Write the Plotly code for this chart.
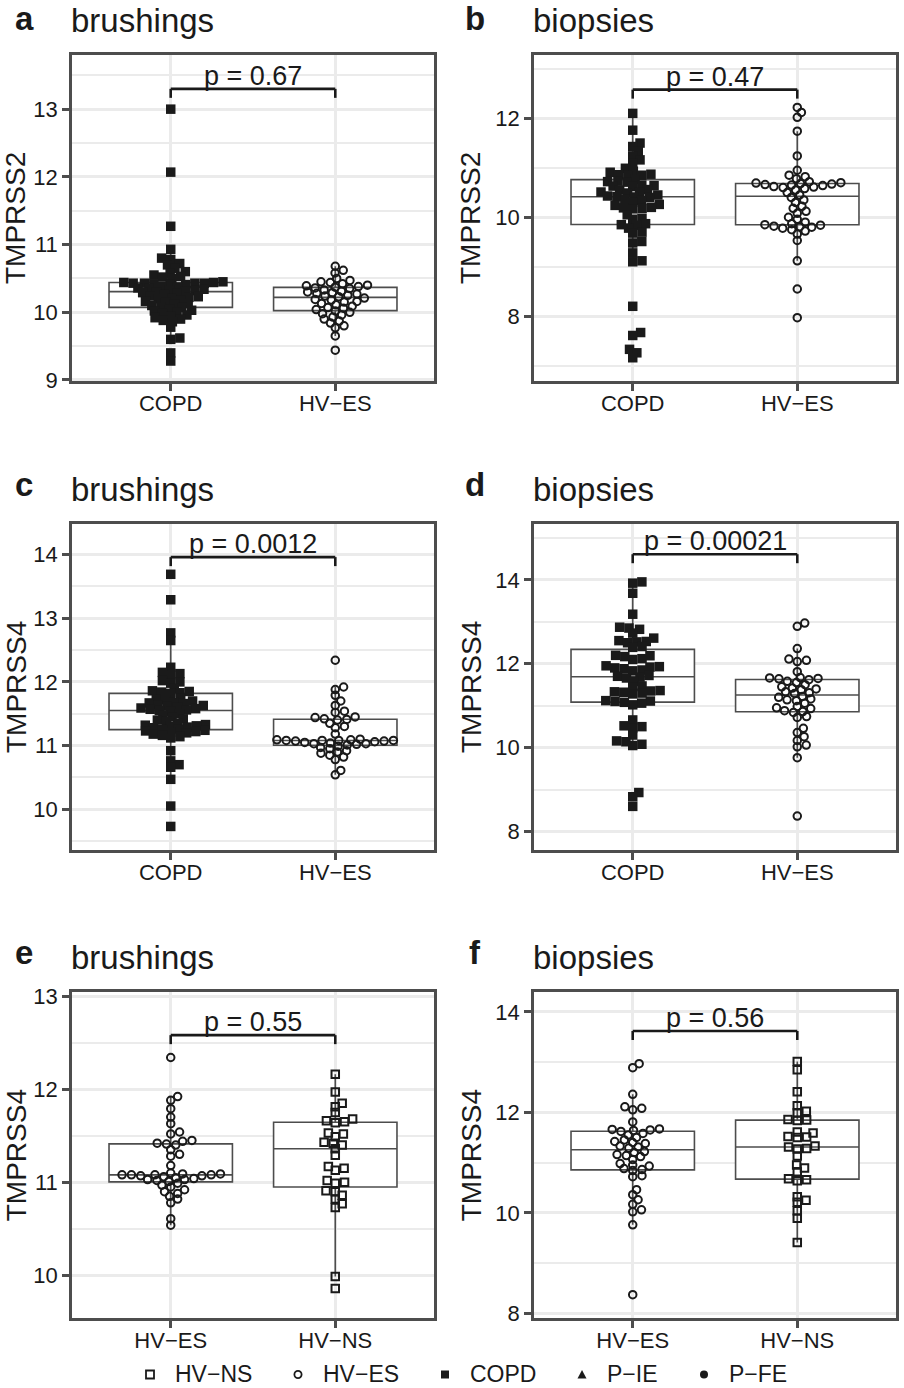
import numpy as np
import plotly.graph_objects as go

MINUS = "\u2212"

# ---------------- data ----------------
# a: brushings TMPRSS2
a_copd = [13.00, 12.07, 11.27, 10.93, 10.80, 10.78, 10.72, 10.70, 10.65, 10.60, 10.58, 10.55, 10.53, 10.52, 10.50,
          10.45, 10.44, 10.44, 10.43, 10.43, 10.43, 10.43, 10.42, 10.42, 10.41,
          10.38, 10.37, 10.36, 10.35, 10.34, 10.33, 10.32, 10.31, 10.30, 10.29, 10.28,
          10.26, 10.24, 10.23, 10.22, 10.21, 10.20, 10.18,
          10.16, 10.15, 10.13, 10.12, 10.10, 10.08, 10.07, 10.05, 10.03, 10.02, 10.00,
          9.98, 9.96, 9.94, 9.92, 9.90, 9.88, 9.86, 9.78, 9.62, 9.60, 9.40, 9.28]
a_hves = [10.68, 10.62, 10.58, 10.50, 10.47, 10.45, 10.44, 10.42, 10.40, 10.39, 10.38, 10.37, 10.36, 10.35,
          10.33, 10.31, 10.30, 10.29, 10.28, 10.27, 10.25, 10.24, 10.23, 10.21, 10.19, 10.18, 10.16, 10.15,
          10.13, 10.11, 10.09, 10.07, 10.06, 10.04, 10.02, 10.00, 9.98, 9.96, 9.93, 9.90, 9.87, 9.84, 9.80,
          9.77, 9.65, 9.44]
# b: biopsies TMPRSS2
b_copd = [12.10, 11.76, 11.50, 11.43, 11.33, 11.24, 11.16, 11.09, 10.99, 10.93, 10.91, 10.87, 10.86, 10.85,
          10.84, 10.77, 10.73, 10.72, 10.71, 10.65, 10.64, 10.63, 10.62, 10.56, 10.55, 10.51, 10.50, 10.49,
          10.45, 10.43, 10.42, 10.41, 10.40, 10.36, 10.34, 10.30, 10.26, 10.24, 10.20, 10.19, 10.18, 10.17,
          10.05, 9.98, 9.96, 9.87, 9.85, 9.84, 9.78, 9.70, 9.68, 9.51, 9.48, 9.28, 9.12, 9.10, 8.20, 7.67,
          7.61, 7.33, 7.26, 7.16]
b_hves = [12.22, 12.12, 12.02, 11.74, 11.24, 10.95, 10.85, 10.82, 10.78, 10.72, 10.70, 10.69, 10.68, 10.67,
          10.66, 10.65, 10.64, 10.62, 10.61, 10.60, 10.58, 10.55, 10.50, 10.45, 10.40, 10.35, 10.30, 10.22,
          10.18, 10.12, 10.08, 10.00, 9.96, 9.90, 9.87, 9.85, 9.84, 9.82, 9.81, 9.80, 9.78, 9.75, 9.72, 9.66,
          9.53, 9.12, 8.55, 7.97]
# c: brushings TMPRSS4
c_copd = [13.69, 13.29, 12.77, 12.65, 12.23, 12.15, 12.13, 12.11, 12.02, 12.00, 11.98, 11.90, 11.86, 11.85,
          11.84, 11.83, 11.82, 11.74, 11.73, 11.72, 11.70, 11.68, 11.67, 11.66, 11.64, 11.63, 11.62, 11.60,
          11.59, 11.58, 11.57, 11.56, 11.55, 11.54, 11.50, 11.47, 11.45, 11.42, 11.40, 11.38, 11.35, 11.33,
          11.32, 11.31, 11.30, 11.29, 11.28, 11.26, 11.25, 11.24, 11.23, 11.22, 11.21, 11.20, 11.18, 11.16,
          11.14, 11.12, 10.92, 10.76, 10.70, 10.66, 10.47, 10.05, 9.73]
c_hves = [12.34, 11.92, 11.88, 11.79, 11.70, 11.63, 11.54, 11.52, 11.45, 11.44, 11.42, 11.41, 11.40, 11.35,
          11.30, 11.28, 11.18, 11.10, 11.09, 11.09, 11.08, 11.08, 11.08, 11.08, 11.07, 11.07, 11.06, 11.05,
          11.04, 11.03, 11.03, 11.02, 11.01, 10.99, 10.97, 10.95, 10.92, 10.90, 10.88, 10.85, 10.82, 10.78,
          10.61, 10.54]
# d: biopsies TMPRSS4
d_copd = [13.95, 13.92, 13.68, 13.18, 12.87, 12.85, 12.82, 12.73, 12.61, 12.55, 12.53, 12.52, 12.50, 12.41,
          12.39, 12.20, 12.19, 12.17, 12.12, 12.10, 11.95, 11.93, 11.92, 11.90, 11.88, 11.85, 11.83, 11.72,
          11.70, 11.68, 11.66, 11.58, 11.47, 11.45, 11.36, 11.35, 11.33, 11.32, 11.30, 11.28, 11.12, 11.11,
          11.10, 11.08, 11.06, 11.02, 10.66, 10.52, 10.50, 10.47, 10.30, 10.16, 10.14, 10.08, 10.05, 8.93,
          8.83, 8.60]
d_hves = [12.97, 12.89, 12.36, 12.11, 12.08, 12.05, 11.81, 11.67, 11.66, 11.65, 11.64, 11.62, 11.58, 11.55,
          11.50, 11.45, 11.42, 11.40, 11.38, 11.33, 11.31, 11.29, 11.22, 11.20, 11.16, 11.14, 11.12, 11.06,
          10.98, 10.95, 10.93, 10.88, 10.86, 10.84, 10.74, 10.72, 10.46, 10.36, 10.26, 10.17, 10.06, 10.02,
          9.76, 8.37]
# e: brushings TMPRSS4, HV-NS   (HV-ES = c_hves)
e_hvns = [12.16, 11.97, 11.85, 11.81, 11.75, 11.68, 11.66, 11.65, 11.64, 11.53, 11.52, 11.49, 11.43, 11.42,
          11.40, 11.36, 11.29, 11.17, 11.15, 11.13, 11.02, 11.00, 10.99, 10.91, 10.90, 10.86, 10.82, 10.77,
          10.73, 9.99, 9.86]
# f: biopsies TMPRSS4, HV-NS   (HV-ES = d_hves)
f_hvns = [13.01, 12.85, 12.41, 12.13, 12.02, 11.99, 11.86, 11.85, 11.84, 11.61, 11.59, 11.52, 11.51, 11.50,
          11.33, 11.31, 11.28, 11.27, 11.13, 10.95, 10.89, 10.82, 10.68, 10.66, 10.64, 10.32, 10.25, 10.21,
          10.04, 9.89, 9.41]

panel_letters = ["a", "b", "c", "d", "e", "f"]
panel_titles = ["brushings", "biopsies", "brushings", "biopsies", "brushings", "biopsies"]
panel_genes = ["TMPRSS2", "TMPRSS2", "TMPRSS4", "TMPRSS4", "TMPRSS4", "TMPRSS4"]
p_labels = ["p = 0.67", "p = 0.47", "p = 0.0012", "p = 0.00021", "p = 0.55", "p = 0.56"]
G_COPD, G_HVES, G_HVNS = "COPD", "HV" + MINUS + "ES", "HV" + MINUS + "NS"
panel_groups = [(G_COPD, G_HVES)] * 4 + [(G_HVES, G_HVNS)] * 2
panel_values = [(a_copd, a_hves), (b_copd, b_hves), (c_copd, c_hves),
                (d_copd, d_hves), (c_hves, e_hvns), (d_hves, f_hvns)]
legend_names = [G_HVNS, G_HVES, G_COPD, "P" + MINUS + "IE", "P" + MINUS + "FE"]

# ---------------- layout constants ----------------
W, H = 904, 1388
COLS = [(72, 434), (534, 896)]
ROWS = [(55, 381), (524, 850), (992.3, 1318.3)]
Y_RANGES = [(8.985, 13.80), (6.69, 13.28), (9.36, 14.48), (7.56, 15.33), (9.54, 13.04), (7.90, 14.39)]
Y_DTICK = [1, 2, 1, 2, 1, 2]
BRACKET_Y = [13.30, 12.58, 13.96, 14.61, 12.58, 13.62]
X_RANGE = (0.4, 2.6)
INK = "#1a1a1a"
FRAME = "#4d4d4d"
GRID = "#ebebeb"
FONT = "Liberation Sans, Arial, Helvetica, sans-serif"
DOT_X = 9.4   # beeswarm horizontal spacing (px)
DOT_Y = 5.5   # beeswarm vertical collision distance (px)

# legend layout (px): key centre x, text left x
LEG_Y = 1374.5
LEG_KEY_X = [150, 298, 445, 582, 704]
LEG_TEXT_X = [175, 323, 470, 607, 729]

STYLE = {
    G_COPD: dict(symbol="square", size=9.5, color=INK, line=dict(width=0)),
    G_HVES: dict(symbol="circle-open", size=7.5, color=INK, line=dict(width=2, color=INK)),
    G_HVNS: dict(symbol="square-open", size=7.5, color=INK, line=dict(width=2, color=INK)),
}


def swarm(values, ppu_y, dx=DOT_X, dy=DOT_Y):
    """beeswarm 'swarm' layout (ascending priority, elliptical collision); offsets in px"""
    ypx = np.asarray(values, float) * ppu_y * (dx / dy)
    d = dx
    order = np.argsort(ypx, kind="stable")
    xs = np.zeros(len(ypx))
    placed = []
    for i in order:
        yi = ypx[i]
        near = [j for j in placed if abs(ypx[j] - yi) < d]
        if near:
            offs = [np.sqrt(d * d - (yi - ypx[j]) ** 2) for j in near]
            cands = [0.0] + [xs[j] + o for j, o in zip(near, offs)] + [xs[j] - o for j, o in zip(near, offs)]
            good = [c for c in cands
                    if all((yi - ypx[j]) ** 2 + (c - xs[j]) ** 2 >= 0.999 * d * d for j in near)]
            xs[i] = min(good, key=abs)
        placed.append(i)
    return xs


def box_stats(values):
    v = np.sort(np.asarray(values, float))
    q1, med, q3 = np.percentile(v, [25, 50, 75])
    iqr = q3 - q1
    lo = v[v >= q1 - 1.5 * iqr].min()
    hi = v[v <= q3 + 1.5 * iqr].max()
    return q1, med, q3, lo, hi


def px(x):
    return x / W


def py(y):
    return 1 - y / H


fig = go.Figure()
annotations = []
shapes = []
layout_axes = {}

for p in range(6):
    r, c = divmod(p, 2)
    x0, x1 = COLS[c]
    y0, y1 = ROWS[r]
    sfx = "" if p == 0 else str(p + 1)
    xa, ya = "x" + sfx, "y" + sfx
    ymin, ymax = Y_RANGES[p]
    ppu_y = (y1 - y0) / (ymax - ymin)
    ppu_x = (x1 - x0) / (X_RANGE[1] - X_RANGE[0])

    # boxes
    for gi, (gname, vals) in enumerate(zip(panel_groups[p], panel_values[p])):
        q1, med, q3, lo, hi = box_stats(vals)
        fig.add_trace(go.Box(
            x=[gi + 1], q1=[q1], median=[med], q3=[q3], lowerfence=[lo], upperfence=[hi],
            orientation="v", width=0.75, boxpoints=False, whiskerwidth=0,
            fillcolor="white", line=dict(color=FRAME, width=1.6),
            xaxis=xa, yaxis=ya, showlegend=False, hoverinfo="skip"))
    # points (beeswarm)
    for gi, (gname, vals) in enumerate(zip(panel_groups[p], panel_values[p])):
        off = swarm(vals, ppu_y)
        fig.add_trace(go.Scatter(
            x=(gi + 1) + off / ppu_x, y=vals, mode="markers", marker=STYLE[gname],
            name=gname, showlegend=False, xaxis=xa, yaxis=ya))

    # axes
    layout_axes["xaxis" + sfx] = dict(
        domain=[x0 / W, x1 / W], anchor=ya, range=list(X_RANGE),
        tickvals=[1, 2], ticktext=list(panel_groups[p]),
        showgrid=True, gridcolor=GRID, gridwidth=2.5, zeroline=False,
        showline=True, mirror=True, linecolor=FRAME, linewidth=2.5,
        ticks="outside", ticklen=7, tickwidth=2.5, tickcolor=FRAME, ticklabelstandoff=-6,
        tickfont=dict(family=FONT, size=22, color=INK), fixedrange=True)
    dt = Y_DTICK[p]
    layout_axes["yaxis" + sfx] = dict(
        domain=[1 - y1 / H, 1 - y0 / H], anchor=xa, range=[ymin, ymax],
        tick0=0, dtick=dt,
        showgrid=True, gridcolor=GRID, gridwidth=2.5, zeroline=False,
        minor=dict(tick0=0, dtick=dt / 2, showgrid=True, gridcolor=GRID, gridwidth=1.5, ticks=""),
        showline=True, mirror=True, linecolor=FRAME, linewidth=2.5,
        ticks="outside", ticklen=7, tickwidth=2.5, tickcolor=FRAME,
        tickfont=dict(family=FONT, size=22, color=INK), fixedrange=True)

    # significance bracket
    by = BRACKET_Y[p]
    tip = 9 / ppu_y
    for (xs_, ys_, xe_, ye_) in [(1, by, 2, by), (1, by, 1, by - tip), (2, by, 2, by - tip)]:
        shapes.append(dict(type="line", xref=xa, yref=ya, x0=xs_, y0=ys_, x1=xe_, y1=ye_,
                           line=dict(color=INK, width=2.6)))
    annotations.append(dict(xref=xa, yref=ya, x=1.5, y=by, yshift=-4, text=p_labels[p],
                            showarrow=False, xanchor="center", yanchor="bottom",
                            font=dict(family=FONT, size=27, color=INK)))

    # panel letter, title, y label
    base = [31, 497, 965][r]
    tbase = [33, 502, 970][r]
    lx = 24 if c == 0 else 475
    annotations.append(dict(xref="paper", yref="paper", x=px(lx), y=py(base + 0.212 * 33 + 1),
                            text="<b>" + panel_letters[p] + "</b>", showarrow=False,
                            xanchor="center", yanchor="bottom",
                            font=dict(family=FONT, size=33, color=INK)))
    annotations.append(dict(xref="paper", yref="paper", x=px(x0 - 3), y=py(tbase + 0.212 * 33 + 1),
                            text=panel_titles[p], showarrow=False, xanchor="left", yanchor="bottom",
                            font=dict(family=FONT, size=33, color=INK)))
    ylx = 16 if c == 0 else 471
    annotations.append(dict(xref="paper", yref="paper", x=px(ylx), y=py((y0 + y1) / 2),
                            text=panel_genes[p], showarrow=False, textangle=-90, borderpad=0,
                            xanchor="center", yanchor="middle",
                            font=dict(family=FONT, size=28, color=INK)))

# ---------------- manual legend (keys as shapes, labels as text) ----------------
k = 4  # half key size (px)
kx = LEG_KEY_X
shapes += [
    dict(type="rect", xref="paper", yref="paper", x0=px(kx[0] - k), x1=px(kx[0] + k),
         y0=py(LEG_Y + k), y1=py(LEG_Y - k), line=dict(color=INK, width=1.8), fillcolor="white"),
    dict(type="circle", xref="paper", yref="paper", x0=px(kx[1] - 3.6), x1=px(kx[1] + 3.6),
         y0=py(LEG_Y + 3.6), y1=py(LEG_Y - 3.6), line=dict(color=INK, width=1.8), fillcolor="white"),
    dict(type="rect", xref="paper", yref="paper", x0=px(kx[2] - k), x1=px(kx[2] + k),
         y0=py(LEG_Y + k), y1=py(LEG_Y - k), line=dict(color=INK, width=0), fillcolor=INK),
    dict(type="path", xref="paper", yref="paper",
         path="M {:.5f} {:.5f} L {:.5f} {:.5f} L {:.5f} {:.5f} Z".format(
             px(kx[3] - 4.5), py(LEG_Y + 4), px(kx[3] + 4.5), py(LEG_Y + 4), px(kx[3]), py(LEG_Y - 4.5)),
         line=dict(color=INK, width=0), fillcolor=INK),
    dict(type="circle", xref="paper", yref="paper", x0=px(kx[4] - 4), x1=px(kx[4] + 4),
         y0=py(LEG_Y + 4), y1=py(LEG_Y - 4), line=dict(color=INK, width=0), fillcolor=INK),
]
for name, tx in zip(legend_names, LEG_TEXT_X):
    annotations.append(dict(xref="paper", yref="paper", x=px(tx - 1), y=py(H - 0.5), text=name,
                            showarrow=False, xanchor="left", yanchor="bottom", borderpad=0,
                            font=dict(family=FONT, size=23, color=INK)))

fig.update_layout(
    width=W, height=H, margin=dict(l=0, r=0, t=0, b=0, autoexpand=False),
    paper_bgcolor="white", plot_bgcolor="white",
    font=dict(family=FONT, color=INK), showlegend=False,
    annotations=annotations, shapes=shapes,
    **layout_axes)

fig.write_html("out.html", config={"displayModeBar": False},
               post_script="document.body.style.margin='0px';document.body.style.overflow='hidden';")
